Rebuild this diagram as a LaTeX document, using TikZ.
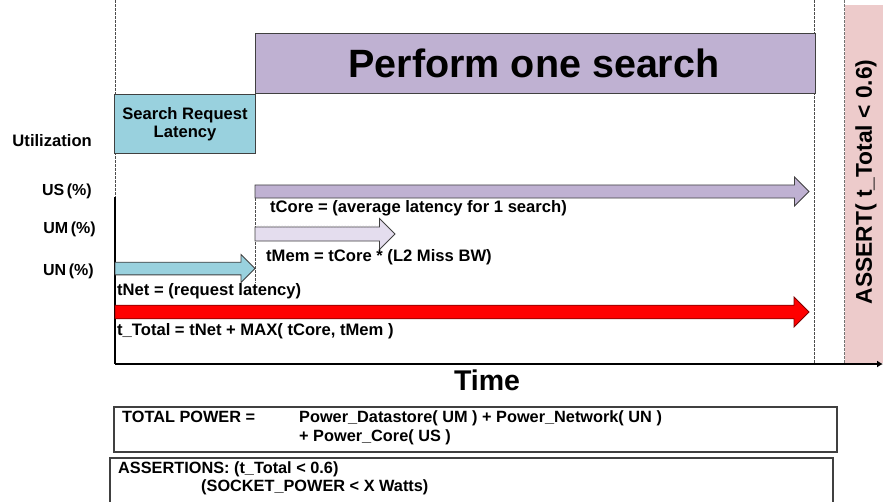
\documentclass[tikz,border=0pt]{standalone}
\usepackage{fontspec}
\setmainfont{Liberation Sans}
\usetikzlibrary{shapes.arrows,arrows.meta,patterns}

\definecolor{coreviolet}{HTML}{BFB1D2}
\definecolor{memviolet}{HTML}{E4DDEE}
\definecolor{memdots}{HTML}{C4B8D8}
\definecolor{netcyan}{HTML}{99D1DE}
\definecolor{assertpink}{HTML}{EDCBCB}
\definecolor{edgegray}{HTML}{404040}

\begin{document}
\begin{tikzpicture}[x=1pt,y=-1pt,
  txt/.style={font=\bfseries\fontsize{16.6}{19}\selectfont, inner sep=0pt, anchor=base west},
  rtxt/.style={txt, anchor=base east},
  unit/.style={font=\bfseries\fontsize{16}{19}\selectfont, inner sep=0pt, anchor=base east},
  boxtxt/.style={font=\bfseries\fontsize{16.3}{19}\selectfont, inner sep=0pt, anchor=base west},
  guide/.style={draw=black!70, line width=0.8pt, dash pattern=on 2.5pt off 1.5pt},
  phase/.style={draw=edgegray, line width=0.9pt, inner sep=0pt, outer sep=0pt, anchor=north west},
  bar/.style={single arrow, draw=edgegray, line width=0.8pt, inner xsep=0pt,
    inner ysep=5.5pt, outer sep=0pt, anchor=tail, single arrow tip angle=90},
  framebox/.style={draw=edgegray, line width=1.2pt, inner sep=0pt, outer sep=0pt, anchor=north west}]
\useasboundingbox (0,0) rectangle (883,501);

% assertion band on the right
\fill[assertpink] (845,5) rectangle (883,363);
\node (assert) [font=\bfseries\fontsize{22.8}{26}\selectfont, rotate=90, inner sep=0pt]
  at (866,182) {ASSERT( t\_Total < 0.6)};

% time guides
\draw[guide] (115,0) -- (115,197);
\draw[guide] (814,0) -- (814,364);
\draw[guide, draw=black!55] (844,0) -- (844,364);
\draw[guide] (255,198) -- (255,283);

% axes
\coordinate (top) at (115,197);
\coordinate (origin) at (115,364);
\coordinate (tend) at (883,364);
\draw[black, line width=1.3pt] (top) -- (origin);
\draw[black, line width=1.3pt, -{Latex[length=6pt,width=7pt]}] (origin) -- (tend);

% phases
\node (search) [phase, fill=coreviolet, minimum width=560pt, minimum height=60pt] at (255,33) {};
\node (searchlbl) [font=\bfseries\fontsize{39.5}{44}\selectfont, inner sep=0pt, anchor=base]
  at (534,77) {Perform one search};
\node (request) [phase, fill=netcyan, minimum width=141pt, minimum height=59pt] at (114,94) {};
\node (reqlbl1) [txt, anchor=base] at (185,119) {Search Request};
\node (reqlbl2) [txt, anchor=base] at (185,137) {Latency};

% utilization labels
\node (util) [rtxt] at (92,146) {Utilization};
\node (us) [unit] at (92,195) {US\,(\%)};
\node (um) [unit] at (96,233) {UM\,(\%)};
\node (un) [unit] at (94,275) {UN\,(\%)};

% latency bars
\node (core) [bar, fill=coreviolet, minimum height=554pt, minimum width=29pt] at (255,191.5) {};
\node (mem) [bar, fill=memviolet, minimum height=140pt, minimum width=31pt] at (255,234) {};
\path[pattern=dots, pattern color=memdots]
  ([xshift=1pt,yshift=-1pt]mem.after tail) rectangle ([xshift=-1pt,yshift=1pt]mem.before head);
\node (net) [bar, fill=netcyan, minimum height=140pt, minimum width=28pt] at (115,268.5) {};
\node (total) [bar, fill=red, draw=red!50!black, minimum height=694pt, minimum width=30pt] at (115,312) {};

\node (corelbl) [txt] at (270,212) {tCore = (average latency for 1 search)};
\node (memlbl) [txt] at (266,261) {tMem = tCore * (L2 Miss BW)};
\node (netlbl) [txt] at (117,295) {tNet = (request latency)};
\node (totallbl) [txt] at (117,335) {t\_Total = tNet + MAX( tCore, tMem )};

\node (time) [font=\bfseries\fontsize{28.5}{32}\selectfont, inner sep=0pt, anchor=base] at (487,390) {Time};

% power and assertion summaries
\node (power) [framebox, minimum width=723pt, minimum height=45pt] at (114,407) {};
\node (powerlbl) [boxtxt] at (122,422) {TOTAL POWER =};
\node (power1) [boxtxt] at (299,422) {Power\_Datastore( UM ) + Power\_Network( UN )};
\node (power2) [boxtxt] at (299,441) {+ Power\_Core( US )};
\node (asserts) [framebox, minimum width=723pt, minimum height=60pt] at (110,458) {};
\node (assertlbl) [boxtxt] at (118,473) {ASSERTIONS: (t\_Total < 0.6)};
\node (assert2) [boxtxt] at (201,491) {(SOCKET\_POWER < X Watts)};
\end{tikzpicture}
\end{document}
